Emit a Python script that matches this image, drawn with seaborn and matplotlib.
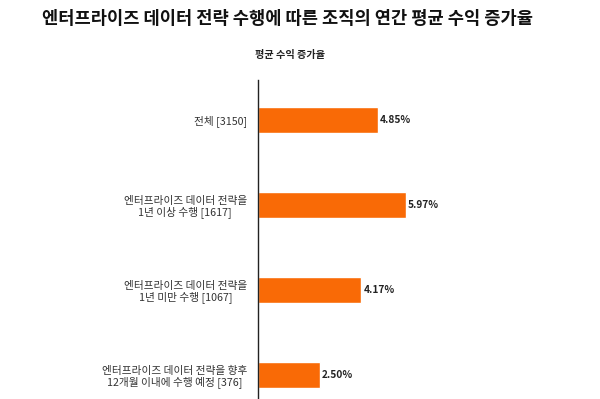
import pandas as pd
import seaborn as sns
import matplotlib.pyplot as plt

# Chart data
categories = [
    "전체 [3150]",
    "엔터프라이즈 데이터 전략을\n1년 이상 수행 [1617]",
    "엔터프라이즈 데이터 전략을\n1년 미만 수행 [1067]",
    "엔터프라이즈 데이터 전략을 향후\n12개월 이내에 수행 예정 [376]",
]
growth = [4.85, 5.97, 4.17, 2.50]
value_labels = ["4.85%", "5.97%", "4.17%", "2.50%"]

df = pd.DataFrame({"group": categories, "growth": growth})

sns.set_theme(style="white")
plt.rcParams["font.family"] = ["Noto Sans CJK KR", "DejaVu Sans"]

fig = plt.figure(figsize=(6, 3.99), dpi=100)
ax = fig.add_axes([258 / 600, 0, 1 - 258 / 600, 319 / 399])

sns.barplot(data=df, x="growth", y="group", orient="h", color="#F96A06",
            saturation=1, width=0.3, ax=ax)

ax.set_xlim(0, 13.8)
ax.set_ylim(3.28, -0.47)
ax.set_xlabel("")
ax.set_ylabel("")
ax.set_xticks([])
ax.tick_params(axis="y", length=0, pad=8, labelsize=7.7, labelcolor="#333333")
for lab in ax.get_yticklabels():
    lab.set_horizontalalignment("right")
    lab.set_multialignment("center")
    lab.set_linespacing(1.05)

for s in ["top", "right", "bottom"]:
    ax.spines[s].set_visible(False)
ax.spines["left"].set_color("#222222")
ax.spines["left"].set_linewidth(1.0)

# value labels just past the bar ends
for i, (v, t) in enumerate(zip(growth, value_labels)):
    ax.text(v + 0.08, i, t, va="center", ha="left", fontsize=7.3,
            fontweight="bold", color="#222222")

fig.text(288 / 600, 1 - 19 / 399, "엔터프라이즈 데이터 전략 수행에 따른 조직의 연간 평균 수익 증가율",
         ha="center", va="center", fontsize=12.7, fontweight="bold", color="#111111")
fig.text(290 / 600, 1 - 55 / 399, "평균 수익 증가율", ha="center", va="center",
         fontsize=7.3, fontweight="bold", color="#222222")

fig.savefig("out.png", dpi=100)
